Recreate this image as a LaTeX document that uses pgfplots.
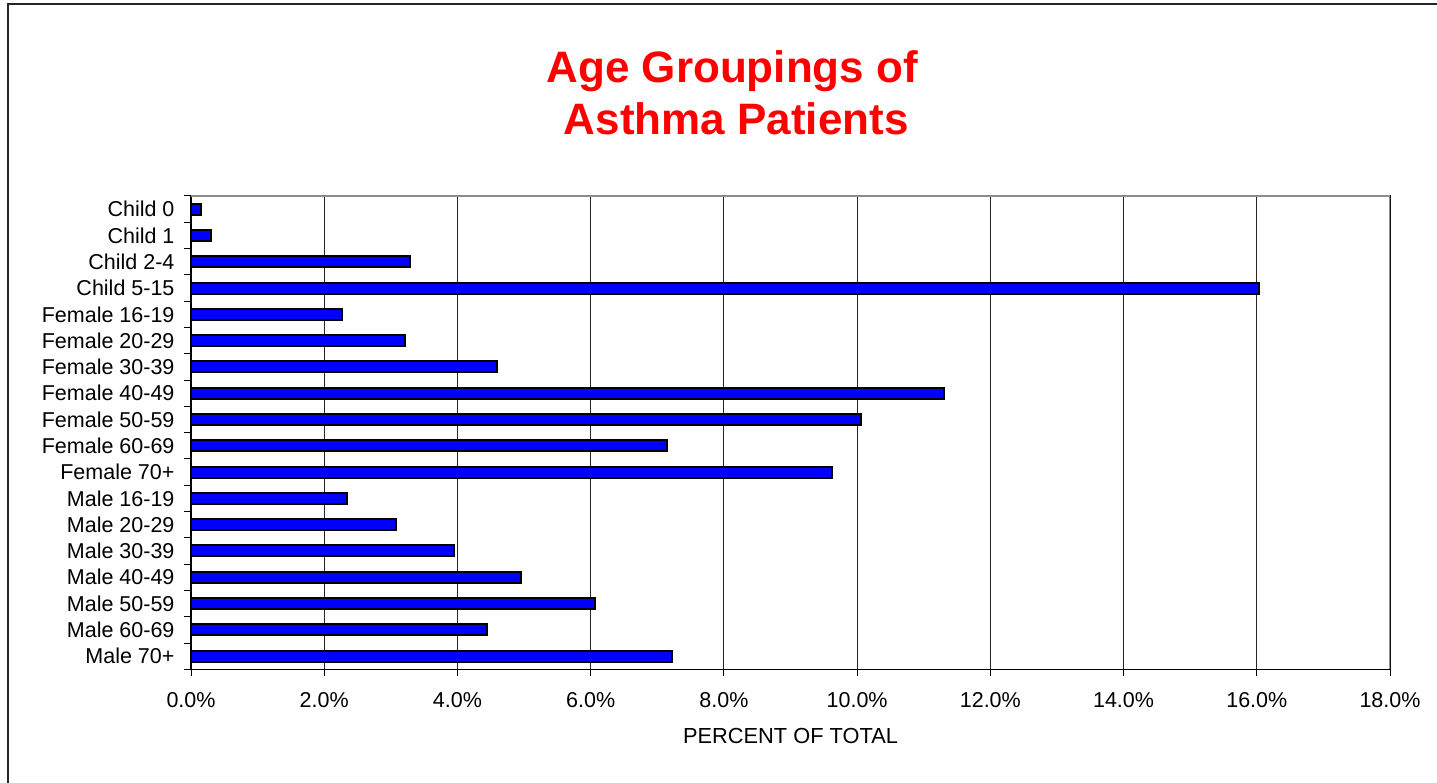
\documentclass[border=0pt]{standalone}
\usepackage{pgfplots}
\pgfplotsset{compat=1.18}
\usepackage{fontspec}
\setmainfont{Liberation Sans}
\definecolor{barblue}{RGB}{0,0,255}
\definecolor{titlered}{RGB}{255,0,0}
\definecolor{bordergray}{RGB}{140,140,140}
\begin{document}
\begin{tikzpicture}[x=1bp,y=1bp]
\useasboundingbox (0,0) rectangle (1437,782);
\draw[line width=2bp, black!85] (8,-20) -- (8,778) -- (1460,778);
\node[anchor=base, text=titlered, font=\fontsize{44bp}{50bp}\selectfont\bfseries] at (732.3,699.3) {Age Groupings of};
\node[anchor=base, text=titlered, font=\fontsize{44bp}{50bp}\selectfont\bfseries] at (736.3,647.7) {Asthma Patients};
\begin{axis}[
  at={(191bp,112.7bp)}, anchor=south west,
  scale only axis, width=1199bp, height=473.3bp,
  xbar, bar width=11bp,
  xmin=0, xmax=18, ymin=-0.5, ymax=17.5, y dir=reverse,
  xtick={0,2,...,18},
  xticklabels={0.0\%,2.0\%,4.0\%,6.0\%,8.0\%,10.0\%,12.0\%,14.0\%,16.0\%,18.0\%},
  ytick={-0.5,0.5,...,17.5},
  yticklabels={},
  extra y ticks={0,1,...,17},
  extra y tick labels={Child 0,Child 1,Child 2-4,Child 5-15,Female 16-19,Female 20-29,Female 30-39,Female 40-49,Female 50-59,Female 60-69,Female 70+,Male 16-19,Male 20-29,Male 30-39,Male 40-49,Male 50-59,Male 60-69,Male 70+},
  extra y tick style={tick style={draw=none}, yticklabel style={xshift=-6bp}},
  tick pos=left, tick align=outside, major tick length=7bp,
  tick style={black, line width=1bp},
  tick label style={font=\fontsize{21.5bp}{25bp}\selectfont},
  xticklabel style={yshift=-13bp},
  xmajorgrids, major grid style={black!85, line width=1bp},
  axis line style={black, line width=1.5bp},
  every axis x label/.style={at={(axis description cs:0.5,0)}, anchor=base, yshift=-74bp},
  xlabel={PERCENT OF TOTAL},
  xlabel style={font=\fontsize{21.8bp}{25bp}\selectfont},
]
\addplot[draw=black, line width=2bp, fill=barblue] coordinates {
(0.15,0) (0.30,1) (3.29,2) (16.03,3) (2.27,4) (3.21,5) (4.60,6) (11.30,7) (10.06,8)
(7.15,9) (9.62,10) (2.34,11) (3.07,12) (3.95,13) (4.96,14) (6.06,15) (4.45,16) (7.22,17)
};
\draw[bordergray, line width=2bp] (axis description cs:0,1) -- (axis description cs:1,1) -- (axis description cs:1,0);
\end{axis}
\end{tikzpicture}
\end{document}
